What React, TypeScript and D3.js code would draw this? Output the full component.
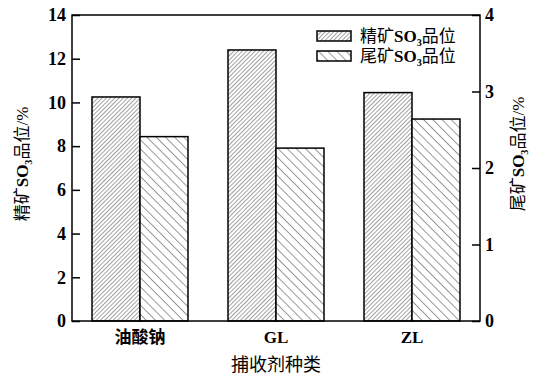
import { useEffect, useRef } from 'react';
import * as d3 from 'd3';

// 数据
const categories = ['油酸钠', 'GL', 'ZL'];
const seriesNames = ['精矿', '尾矿'];
const concGrade = [10.25, 12.4, 10.45]; // 左轴 0-14
const tailGrade = [2.41, 2.26, 2.64]; // 右轴 0-4
const leftTicks = [0, 2, 4, 6, 8, 10, 12, 14];
const rightTicks = [0, 1, 2, 3, 4];

const W = 533;
const H = 377;
const latin = '"Liberation Serif", "Times New Roman", serif';
const cjk = '"Noto Sans CJK SC", sans-serif';

export default function App() {
    const svgRef = useRef<SVGSVGElement>(null);

    useEffect(() => {
        if (!svgRef.current) return;
        const svg = d3.select(svgRef.current);
        svg.selectAll('*').remove();

        const m = { top: 15, right: 53, bottom: 56, left: 72 };
        const x0 = m.left, x1 = W - m.right, y0 = H - m.bottom, y1 = m.top;

        // 1. 图案
        const defs = svg.append('defs');
        const p1 = defs.append('pattern').attr('id', 'hatch1').attr('patternUnits', 'userSpaceOnUse')
            .attr('width', 3).attr('height', 3).attr('patternTransform', 'rotate(45)');
        p1.append('rect').attr('width', 3).attr('height', 3).attr('fill', '#fff');
        p1.append('line').attr('x1', 0).attr('y1', 0).attr('x2', 0).attr('y2', 3)
            .attr('stroke', '#555').attr('stroke-width', 1.1);
        const p2 = defs.append('pattern').attr('id', 'hatch2').attr('patternUnits', 'userSpaceOnUse')
            .attr('width', 6.5).attr('height', 6.5).attr('patternTransform', 'rotate(-45)');
        p2.append('rect').attr('width', 6.5).attr('height', 6.5).attr('fill', '#fff');
        p2.append('line').attr('x1', 0).attr('y1', 0).attr('x2', 0).attr('y2', 6.5)
            .attr('stroke', '#333').attr('stroke-width', 1);

        // 2. 比例尺
        const x = d3.scaleBand<string>().domain(categories).range([x0, x1])
            .paddingInner(40 / 136).paddingOuter(20 / 136);
        const xs = d3.scaleBand<string>().domain(seriesNames).range([0, x.bandwidth()]);
        const yL = d3.scaleLinear().domain([0, 14]).range([y0, y1]);
        const yR = d3.scaleLinear().domain([0, 4]).range([y0, y1]);

        // 3. 柱子
        const g = svg.append('g');
        categories.forEach((c, i) => {
            g.append('rect')
                .attr('x', x(c)! + xs('精矿')!)
                .attr('y', yL(concGrade[i]))
                .attr('width', xs.bandwidth())
                .attr('height', y0 - yL(concGrade[i]))
                .attr('fill', 'url(#hatch1)')
                .attr('stroke', '#000').attr('stroke-width', 1.5);
            g.append('rect')
                .attr('x', x(c)! + xs('尾矿')!)
                .attr('y', yR(tailGrade[i]))
                .attr('width', xs.bandwidth())
                .attr('height', y0 - yR(tailGrade[i]))
                .attr('fill', 'url(#hatch2)')
                .attr('stroke', '#000').attr('stroke-width', 1.5);
        });

        // 4. 坐标轴
        const axL = svg.append('g').attr('transform', `translate(${x0},0)`)
            .call(d3.axisLeft(yL).tickValues(leftTicks).tickFormat(d3.format('d')).tickSize(-8).tickPadding(6));
        const axR = svg.append('g').attr('transform', `translate(${x1},0)`)
            .call(d3.axisRight(yR).tickValues(rightTicks).tickFormat(d3.format('d')).tickSize(-8).tickPadding(5));
        [axL, axR].forEach(ax => {
            ax.attr('font-family', null).attr('font-size', null);
            ax.select('.domain').remove();
            ax.selectAll('line').attr('stroke', '#000').attr('stroke-width', 1.5);
            ax.selectAll('text')
                .style('font-family', latin).style('font-weight', 'bold')
                .style('font-size', '18px').attr('fill', '#000');
        });

        // 边框
        svg.append('rect').attr('x', x0).attr('y', y1).attr('width', x1 - x0).attr('height', y0 - y1)
            .attr('fill', 'none').attr('stroke', '#000').attr('stroke-width', 1.5);

        // 类别标签
        categories.forEach(c => {
            svg.append('text')
                .attr('x', x(c)! + x.bandwidth() / 2).attr('y', y0 + 22)
                .attr('text-anchor', 'middle')
                .style('font-family', c === '油酸钠' ? cjk : latin)
                .style('font-weight', 'bold').style('font-size', '17px')
                .text(c);
        });

        svg.append('text')
            .attr('x', (x0 + x1) / 2).attr('y', y0 + 50)
            .attr('text-anchor', 'middle').style('font-family', cjk).style('font-size', '18px')
            .text('捕收剂种类');

        // 含下标的文字
        const gradeLabel = (sel: d3.Selection<SVGTextElement, unknown, null, undefined>, prefix: string, size: number, unit: boolean) => {
            sel.append('tspan').style('font-family', cjk).text(prefix);
            sel.append('tspan').style('font-family', latin).style('font-weight', 'bold').text('SO');
            sel.append('tspan').style('font-family', latin).style('font-weight', 'bold')
                .style('font-size', `${size * 0.6}px`).attr('dy', 4).text('3');
            sel.append('tspan').style('font-family', cjk).attr('dy', -4).text('品位');
            if (unit) sel.append('tspan').style('font-family', latin).text('/%');
        };

        const lblL = svg.append('text')
            .attr('transform', `translate(28,${(y0 + y1) / 2 - 4}) rotate(-90)`)
            .attr('text-anchor', 'middle').style('font-size', '17px');
        gradeLabel(lblL, '精矿', 17, true);

        const lblR = svg.append('text')
            .attr('transform', `translate(524,${(y0 + y1) / 2 - 14}) rotate(-90)`)
            .attr('text-anchor', 'middle').style('font-size', '17px');
        gradeLabel(lblR, '尾矿', 17, true);

        // 5. 图例
        const legend = svg.append('g');
        seriesNames.forEach((s, i) => {
            const ly = 31 + i * 20;
            legend.append('rect').attr('x', 317).attr('y', ly).attr('width', 34).attr('height', 10)
                .attr('fill', i === 0 ? 'url(#hatch1)' : 'url(#hatch2)')
                .attr('stroke', '#000').attr('stroke-width', 1.5);
            const t = legend.append('text').attr('x', 360).attr('y', ly + 11).style('font-size', '17px');
            gradeLabel(t, s, 17, false);
        });
    }, []);

    return (
        <div style={{ position: 'absolute', left: 0, top: 0, background: '#fff' }}>
            <svg ref={svgRef} width={W} height={H} style={{ display: 'block' }} />
        </div>
    );
}
